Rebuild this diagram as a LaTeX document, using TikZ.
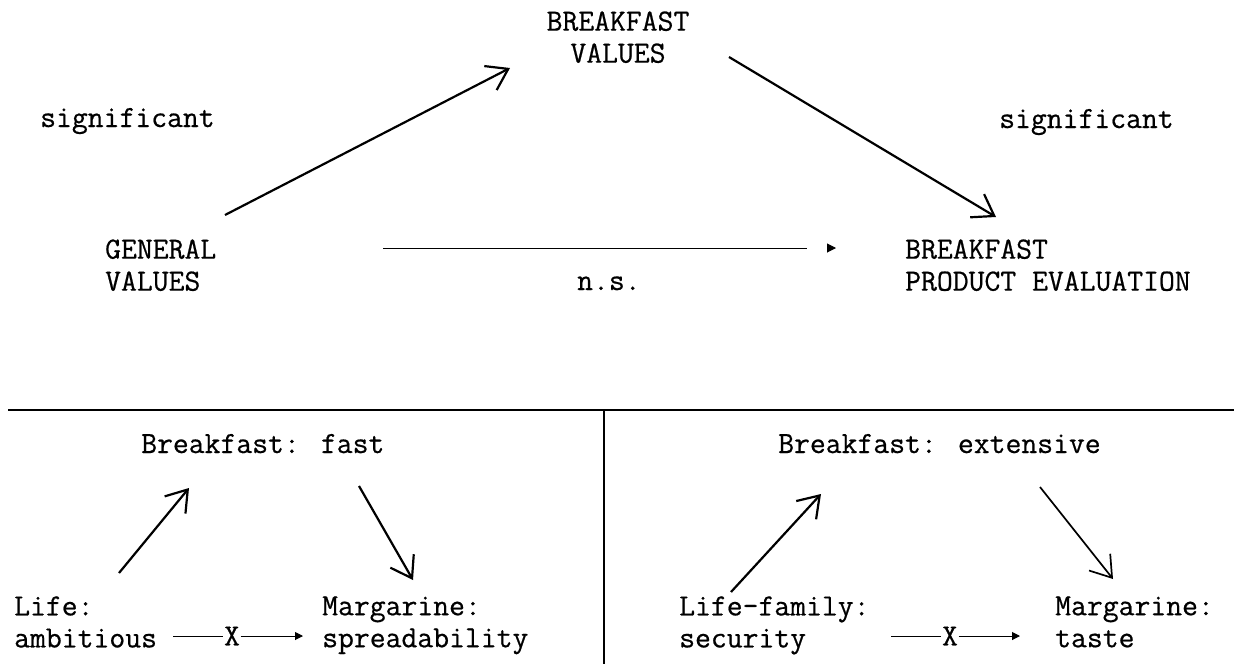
\documentclass[tikz,border=0pt]{standalone}
\usepackage{fontspec}
\usetikzlibrary{arrows.meta}
\newfontfamily\tyfam{Latin Modern Mono}[FakeBold=0.6]
\newcommand\tyfont{\fontsize{30.8}{32}\selectfont\tyfam}
\begin{document}
\begin{tikzpicture}[x=1pt,y=-1pt,
  lab/.style={font=\tyfont, inner sep=0pt, align=left, anchor=north west},
  one/.style={font=\tyfont, inner sep=0pt, anchor=base west},
  bigarrow/.style={line width=2.2pt, -{Straight Barb[length=20pt,width=27pt,line width=2.2pt]}},
  thinline/.style={line width=1pt},
  smallarrow/.style={line width=1pt, -{Triangle[length=8pt,width=8pt]}},
  rule/.style={line width=1.4pt}]
\useasboundingbox (0,0) rectangle (1234,664);
% top part
\node[lab, align=center, anchor=north] (bv) at (618,11.2) {BREAKFAST\\VALUES};
\node[one] (sigL) at (40,127) {significant};
\node[one] (sigR) at (999,128) {significant};
\node[lab] (gv) at (105,239.2) {GENERAL\\VALUES};
\node[lab] (bpe) at (905,239.2) {BREAKFAST\\PRODUCT EVALUATION};
\node[one] (ns) at (577,290) {n.s.};
\coordinate (a1s) at (225,215);
\coordinate (a1e) at (510,68);
\coordinate (a2s) at (729,57);
\coordinate (a2e) at (996,217);
\draw[bigarrow] (a1s) -- (a1e);
\draw[bigarrow] (a2s) -- (a2e);
\coordinate (hs) at (383,248);
\coordinate (he) at (836,248);
\draw[thinline, dash pattern=on 424pt off 20pt, -{Triangle[length=9pt,width=9pt]}] (hs) -- (he);
% separators
\coordinate (rl) at (8,410);
\coordinate (rr) at (1234,410);
\coordinate (vt) at (604,410);
\coordinate (vb) at (604,664);
\draw[rule] (rl) -- (rr);
\draw[rule] (vt) -- (vb);
% bottom left
\node[one] (bf) at (141,453) {Breakfast: fast};
\node[lab] (life) at (14,596.2) {Life:\\ambitious};
\node[lab] (marg1) at (322,596.2) {Margarine:\\spreadability};
\coordinate (b1s) at (119,573);
\coordinate (b1e) at (189,488);
\coordinate (b2s) at (359,486);
\coordinate (b2e) at (413,580);
\draw[bigarrow] (b1s) -- (b1e);
\draw[bigarrow] (b2s) -- (b2e);
\node[font=\tyfont, inner sep=0.5pt] (x1) at (232,636) {X};
\coordinate (l1s) at (173,636);
\coordinate (l1e) at (303,636);
\draw[thinline] (l1s) -- (x1);
\draw[smallarrow] (x1) -- (l1e);
% bottom right
\node[one] (be) at (778,453) {Breakfast: extensive};
\node[lab] (lf) at (679,596.2) {Life-family:\\security};
\node[lab] (marg2) at (1055,596.2) {Margarine:\\taste};
\coordinate (c1s) at (731,592);
\coordinate (c1e) at (821,494);
\coordinate (c2s) at (1040,487);
\coordinate (c2e) at (1113,579);
\draw[bigarrow] (c1s) -- (c1e);
\draw[line width=1.7pt, -{Straight Barb[length=20pt,width=27pt,line width=1.7pt]}] (c2s) -- (c2e);
\node[font=\tyfont, inner sep=0.5pt] (x2) at (950,636) {X};
\coordinate (l2s) at (891,636);
\coordinate (l2e) at (1020,636);
\draw[thinline] (l2s) -- (x2);
\draw[smallarrow] (x2) -- (l2e);
\end{tikzpicture}
\end{document}
